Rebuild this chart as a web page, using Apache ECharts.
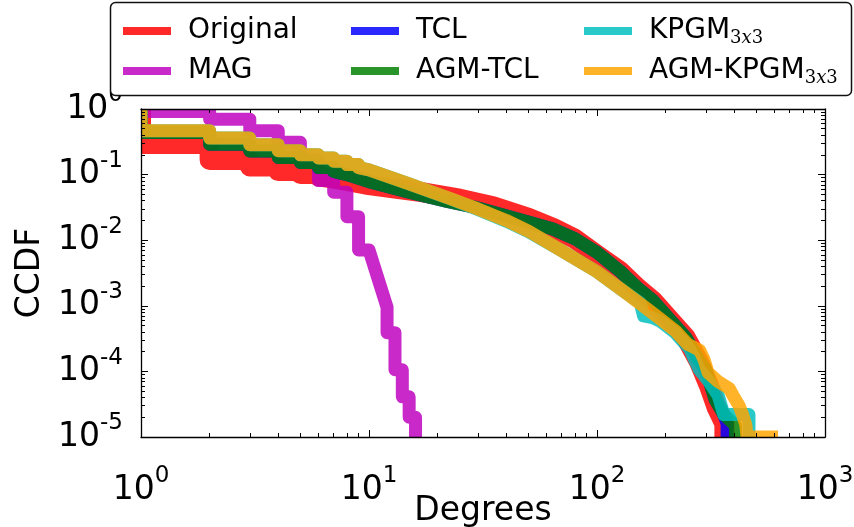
<!DOCTYPE html>
<html>
<head>
<meta charset="utf-8">
<script src="https://cdn.jsdelivr.net/npm/echarts@6/dist/echarts.min.js"></script>
<style>
  html, body { margin: 0; padding: 0; background: #fff; }
  #chart { width: 854px; height: 527px; }
</style>
</head>
<body>
<div id="chart"></div>
<script>
// Degree distributions as CCDF curves: vertices (degree, CCDF) along each line.
const originalDeg  = [1, 1, 2, 2, 3, 3, 4, 4, 5, 5, 6, 6, 7, 8, 10, 13, 17, 25, 35, 50, 64, 80, 100, 126, 150, 176, 210, 245, 280, 310, 335, 362, 362];
const originalCcdf = [1, 0.293, 0.293, 0.167, 0.167, 0.133, 0.133, 0.113, 0.113, 0.102, 0.102, 0.094, 0.087, 0.08, 0.069, 0.061, 0.054, 0.043, 0.033, 0.022, 0.0155, 0.0105, 0.006, 0.0034, 0.0019, 0.0012, 6e-4, 3.3e-4, 1.4e-4, 6e-5, 2.8e-5, 1.6e-5, 1e-5];

const magDeg  = [1, 1, 2, 2, 3, 3, 4, 4, 5, 5, 6, 6, 7, 7, 8, 8, 9, 9, 10, 12, 12, 13, 13, 14, 14, 15, 15, 16, 16];
const magCcdf = [1, 0.92, 0.92, 0.70, 0.70, 0.467, 0.467, 0.311, 0.311, 0.168, 0.168, 0.081, 0.081, 0.054, 0.054, 0.0228, 0.0228, 0.0071, 0.0071, 0.00095, 0.00039, 0.00039, 1.06e-4, 1.06e-4, 4.1e-5, 4.1e-5, 2e-5, 2e-5, 1e-5];

const tclDeg  = [1, 1, 2, 2, 3, 3, 4, 4, 5, 5, 6, 6, 7, 7, 8, 10, 15, 22, 30, 50, 64, 80, 100, 126, 150, 176, 210, 245, 280, 300, 330, 360, 372, 372];
const tclCcdf = [1, 0.44, 0.44, 0.29, 0.29, 0.229, 0.229, 0.183, 0.183, 0.153, 0.153, 0.128, 0.128, 0.112, 0.1, 0.078, 0.054, 0.039, 0.031, 0.019, 0.0148, 0.0105, 0.0065, 0.0034, 0.0019, 0.0012, 6e-4, 3.3e-4, 1.5e-4, 1.06e-4, 3.7e-5, 2.2e-5, 1.6e-5, 1e-5];

const agmTclDeg  = [1, 1, 2, 2, 3, 3, 4, 4, 5, 5, 6, 6, 7, 7, 8, 10, 15, 22, 30, 50, 64, 80, 100, 126, 150, 176, 210, 245, 280, 300, 330, 360, 405, 405];
const agmTclCcdf = [1, 0.44, 0.44, 0.29, 0.29, 0.229, 0.229, 0.183, 0.183, 0.153, 0.153, 0.128, 0.128, 0.112, 0.1, 0.078, 0.054, 0.039, 0.031, 0.019, 0.0148, 0.0105, 0.0065, 0.0034, 0.0019, 0.0012, 6e-4, 3.3e-4, 1.5e-4, 1.06e-4, 3.7e-5, 2.2e-5, 1.5e-5, 1e-5];

const kpgmDeg  = [1, 1, 2, 2, 3, 3, 4, 4, 5, 5, 6, 6, 7, 7, 8, 8, 9, 9, 10, 15, 22.6, 30, 40, 50, 69, 100, 130, 155, 160, 175, 190, 220, 255, 281, 310, 340, 360, 464, 464];
const kpgmCcdf = [1, 0.467, 0.467, 0.36, 0.36, 0.286, 0.286, 0.231, 0.231, 0.2, 0.2, 0.179, 0.179, 0.16, 0.16, 0.142, 0.142, 0.128, 0.118, 0.072, 0.043, 0.0295, 0.0195, 0.0135, 0.0071, 0.0033, 0.0017, 0.0011, 7e-4, 6.6e-4, 5.8e-4, 3.9e-4, 2.2e-4, 1.06e-4, 7e-5, 4.3e-5, 2.2e-5, 2.2e-5, 1e-5];

const agmKpgmDeg  = [1, 1, 2, 2, 3, 3, 4, 4, 5, 5, 6, 6, 7, 7, 8, 8, 9, 9, 10, 15, 22.6, 30, 40, 50, 69, 100, 130, 159, 184, 220, 250, 282, 295, 307, 340, 380, 395, 420, 435, 450, 455, 583];
const agmKpgmCcdf = [1, 0.467, 0.467, 0.36, 0.36, 0.286, 0.286, 0.231, 0.231, 0.2, 0.2, 0.179, 0.179, 0.16, 0.16, 0.142, 0.142, 0.128, 0.118, 0.072, 0.0435, 0.03, 0.02, 0.0138, 0.0071, 0.0033, 0.0017, 0.001, 6.8e-4, 4.2e-4, 2.6e-4, 2.1e-4, 1.5e-4, 9.6e-5, 7e-5, 5.5e-5, 4.3e-5, 3e-5, 2.2e-5, 1.5e-5, 1e-5, 1e-5];

// Axis ticks (decades) and the per-decade minor ticks.
const xTickValues = [1, 10, 100, 1000];
const yTickValues = [1e-5, 1e-4, 1e-3, 1e-2, 1e-1, 1];
const xMinorTicks = [];
for (let e = 0; e < 3; e++) for (let k = 2; k <= 9; k++) xMinorTicks.push(Number((k * Math.pow(10, e)).toPrecision(3)));
const yMinorTicks = [];
for (let e = -5; e < 0; e++) for (let k = 2; k <= 9; k++) yMinorTicks.push(Number((k * Math.pow(10, e)).toPrecision(3)));

const FONT = 'DejaVu Sans';
const ALPHA = 0.84;

const seriesDefs = [
  { name: 'Original',    deg: originalDeg, ccdf: originalCcdf, color: '#ff0000', width: 20 },
  { name: 'MAG',         deg: magDeg,      ccdf: magCcdf,      color: '#bf00bf', width: 13 },
  { name: 'TCL',         deg: tclDeg,      ccdf: tclCcdf,      color: '#0000ff', width: 13 },
  { name: 'AGM-TCL',     deg: agmTclDeg,   ccdf: agmTclCcdf,   color: '#008000', width: 13 },
  { name: 'KPGM3x3',     deg: kpgmDeg,     ccdf: kpgmCcdf,     color: '#00bfbf', width: 13 },
  { name: 'AGM-KPGM3x3', deg: agmKpgmDeg,  ccdf: agmKpgmCcdf,  color: '#ffa500', width: 13 }
];

// colour of a translucent stroke seen over white
function overWhite(hex, a) {
  const n = parseInt(hex.slice(1), 16);
  const ch = [(n >> 16) & 255, (n >> 8) & 255, n & 255].map(v => Math.round(v * a + 255 * (1 - a)));
  return 'rgb(' + ch.join(',') + ')';
}

function powLabel(v) {
  const e = Math.round(Math.log10(v));
  return '{b|10}{e|' + String(e) + '}';
}
const powRich = {
  b: { fontSize: 33, fontFamily: FONT, color: '#000', lineHeight: 50 },
  e: { fontSize: 23, fontFamily: FONT, color: '#000', lineHeight: 23, verticalAlign: 'top' }
};

const subMap = {
  'KPGM3x3': '{t|KPGM}{s|3}{i|x}{s|3}',
  'AGM-KPGM3x3': '{t|AGM-KPGM}{s|3}{i|x}{s|3}'
};
const legendRich = {
  t: { fontSize: 28, fontFamily: FONT, color: '#000', lineHeight: 32 },
  s: { fontSize: 18, fontFamily: 'DejaVu Serif', color: '#000', lineHeight: 12, verticalAlign: 'bottom' },
  i: { fontSize: 18, fontFamily: 'DejaVu Serif', fontStyle: 'italic', color: '#000', lineHeight: 12, verticalAlign: 'bottom' }
};

function legendCol(names, left) {
  return {
    orient: 'vertical', left: left, top: 15, padding: 0,
    itemWidth: 48, itemHeight: 8, itemGap: 8, icon: 'rect', z: 20,
    selectedMode: false,
    data: names.map(n => {
      const d = seriesDefs.find(s => s.name === n);
      return { name: n, itemStyle: { color: overWhite(d.color, ALPHA), opacity: 1 } };
    }),
    formatter: n => subMap[n] || ('{t|' + n + '}'),
    textStyle: { fontSize: 28, fontFamily: FONT, color: '#000', lineHeight: 32, padding: [0, 0, 0, 12], rich: legendRich }
  };
}

const axisCommon = {
  type: 'log', logBase: 10, z: 10, splitLine: { show: false },
  axisLine: { show: true, onZero: false, lineStyle: { color: '#000', width: 1.3 } }
};
function majorAxis(extra, ticks) {
  return Object.assign({}, axisCommon, {
    axisTick: { show: true, inside: true, length: 7, customValues: ticks, lineStyle: { color: '#000', width: 1 } },
    axisLabel: { show: false }
  }, extra);
}
function minorAxis(extra, ticks) {
  return Object.assign({}, axisCommon, {
    axisLine: { show: false, onZero: false },
    axisTick: { show: true, inside: true, length: 4, customValues: ticks, lineStyle: { color: '#000', width: 1 } },
    axisLabel: { show: false }
  }, extra);
}

const xRange = { min: 1, max: 1000 };
const yRange = { min: 1e-5, max: 1 };

// plotting area in pixels
const G = { left: 141, top: 109, width: 684, height: 328 };

// white margins that trim the thick strokes at the frame edges
function edgeMask(x, y, w, h) {
  return { type: 'rect', z: 5, silent: true, shape: { x: x, y: y, width: w, height: h }, style: { fill: '#fff' } };
}

const option = {
  animation: false,
  backgroundColor: '#fff',
  grid: { left: G.left, top: G.top, width: G.width, height: G.height, containLabel: false, outerBoundsMode: 'none' },
  legend: [
    legendCol(['Original', 'MAG'], 123),
    legendCol(['TCL', 'AGM-TCL'], 351),
    legendCol(['KPGM3x3', 'AGM-KPGM3x3'], 584)
  ],
  graphic: [
    edgeMask(G.left - 20, G.top - 20, 20, G.height + 40),
    edgeMask(G.left + G.width, G.top - 20, 20, G.height + 40),
    edgeMask(G.left - 20, G.top - 20, G.width + 40, 20),
    edgeMask(G.left - 20, G.top + G.height, G.width + 40, 20),
    {
      type: 'rect', z: 15, silent: true,
      shape: { x: 110.5, y: 2.5, width: 741, height: 93, r: 5 },
      style: { fill: '#fff', stroke: '#111', lineWidth: 1.5 }
    }
  ],
  xAxis: [
    majorAxis(Object.assign({
      position: 'bottom',
      axisLabel: { show: true, margin: 28, customValues: xTickValues, formatter: powLabel, rich: powRich },
      name: 'Degrees', nameLocation: 'middle', nameGap: 58, nameMoveOverlap: false,
      nameTextStyle: { fontSize: 33, fontFamily: FONT, color: '#000' }
    }, xRange), xTickValues),
    majorAxis(Object.assign({ position: 'top' }, xRange), xTickValues),
    minorAxis(Object.assign({ position: 'bottom' }, xRange), xMinorTicks),
    minorAxis(Object.assign({ position: 'top' }, xRange), xMinorTicks)
  ],
  yAxis: [
    majorAxis(Object.assign({
      position: 'left',
      axisLabel: { show: true, margin: 18, customValues: yTickValues, formatter: powLabel, rich: powRich },
      name: 'CCDF', nameLocation: 'middle', nameGap: 89,
      nameTextStyle: { fontSize: 33, fontFamily: FONT, color: '#000' }
    }, yRange), yTickValues),
    majorAxis(Object.assign({ position: 'right' }, yRange), yTickValues),
    minorAxis(Object.assign({ position: 'left' }, yRange), yMinorTicks),
    minorAxis(Object.assign({ position: 'right' }, yRange), yMinorTicks)
  ],
  series: seriesDefs.map(s => ({
    name: s.name, type: 'line', xAxisIndex: 0, yAxisIndex: 0,
    showSymbol: false, symbol: 'none', clip: true, silent: true,
    itemStyle: { color: s.color },
    lineStyle: { color: s.color, width: s.width, opacity: ALPHA, cap: 'square', join: 'round' },
    emphasis: { disabled: true },
    data: s.deg.map((d, i) => [d, s.ccdf[i]])
  }))
};

const chart = echarts.init(document.getElementById('chart'), null, { renderer: 'canvas' });
chart.setOption(option);
</script>
</body>
</html>
